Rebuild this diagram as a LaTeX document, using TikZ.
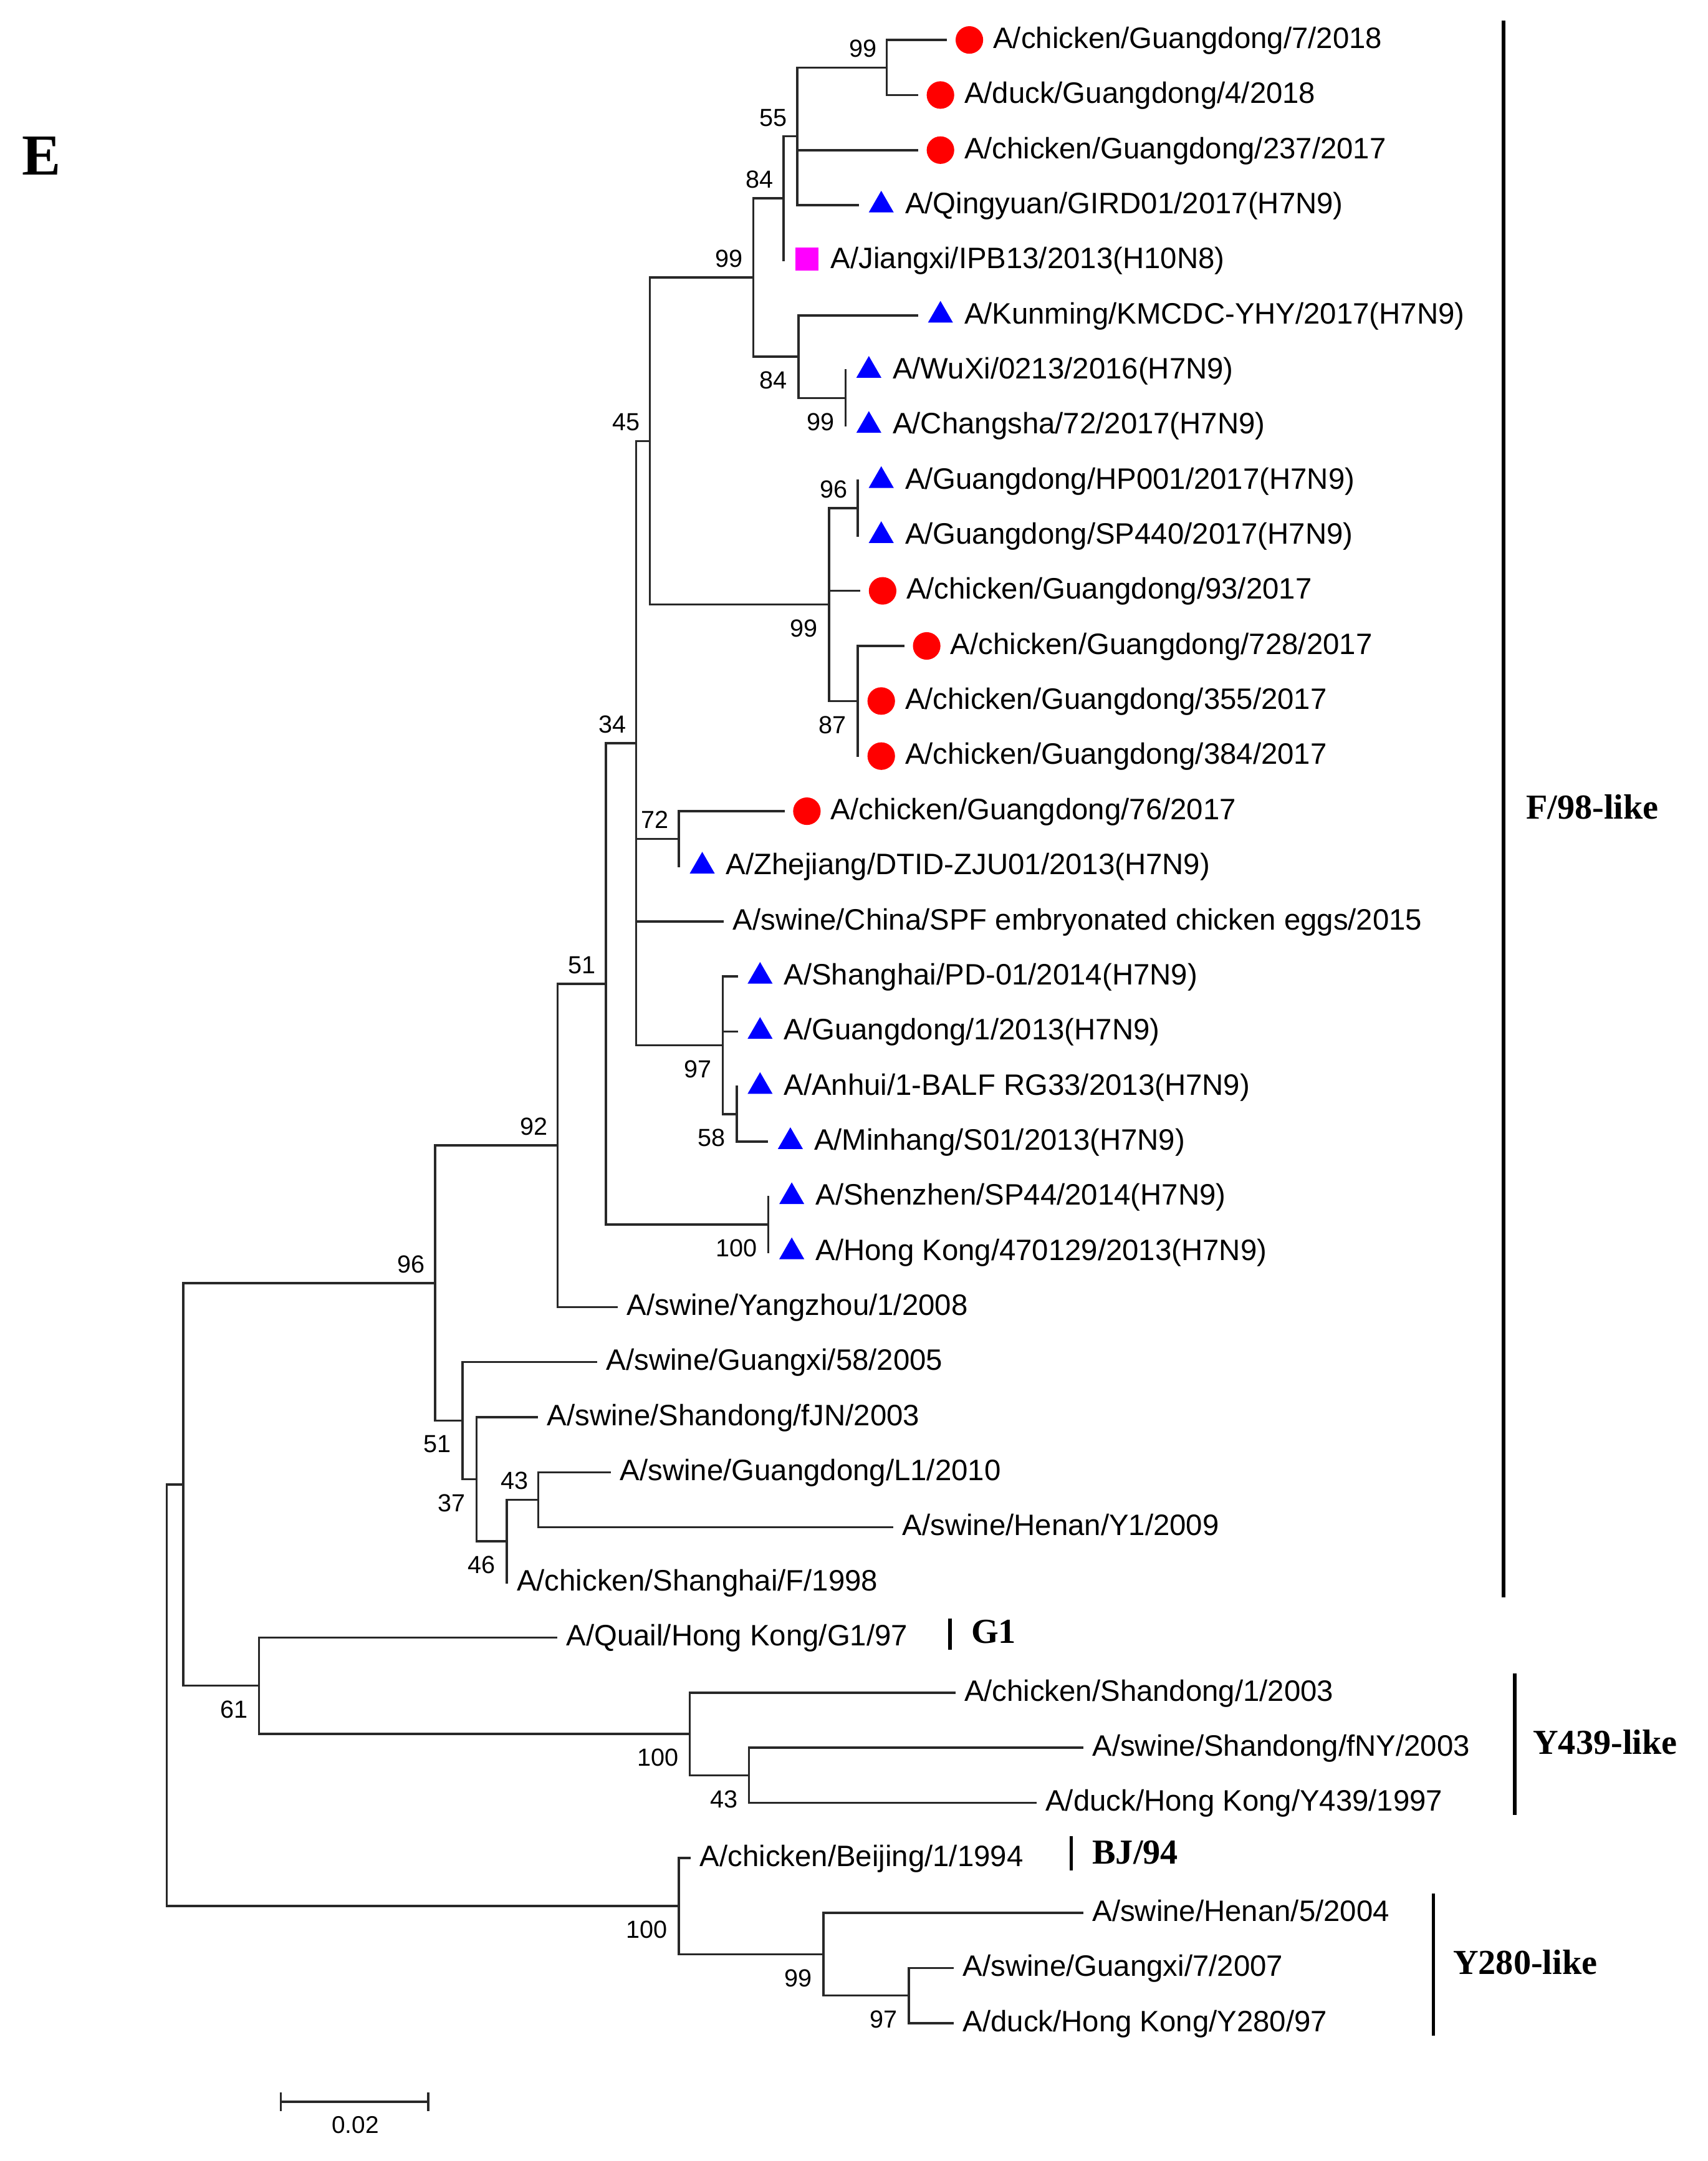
\documentclass[tikz,border=0pt]{standalone}
\usepackage{fontspec}
\setmainfont{Liberation Serif}
\setsansfont{Liberation Sans}
\usepackage{tikz}
\usetikzlibrary{shapes.geometric,calc,positioning}
\definecolor{rojo}{RGB}{255, 0, 0}
\definecolor{azul}{RGB}{0, 0, 255}
\definecolor{fucsia}{RGB}{255, 0, 255}
\definecolor{tinta}{RGB}{40, 40, 40}
\tikzstyle{branch} =[line width=0.9pt, line cap=rect, tinta]
\tikzstyle{cladebar}=[line width=1.5pt, black]
\tikzstyle{redpt}  =[circle, fill=rojo, minimum size=0.4cm,
                     inner sep=0pt, outer sep=0pt]
\tikzstyle{bluept} =[regular polygon, regular polygon sides=3,
                     fill=azul, minimum size=0.42cm, inner sep=0pt]
\tikzstyle{pinkpt} =[rectangle, fill=fucsia, minimum size=0.33cm,
                     inner sep=0pt]
\tikzstyle{taxon}  =[anchor=base west, inner sep=0pt,
                     font=\sffamily\fontsize{12.2}{14}\selectfont]
\tikzstyle{bsup}   =[anchor=south east, inner sep=0pt, xshift=-4pt,
                     yshift=4pt, font=\sffamily\fontsize{10.2}{12}\selectfont]
\tikzstyle{bsdn}   =[anchor=north east, inner sep=0pt, xshift=-4.5pt,
                     yshift=-6pt, font=\sffamily\fontsize{10.2}{12}\selectfont]
\tikzstyle{clade}  =[anchor=west, inner sep=0pt,
                     font=\rmfamily\bfseries\fontsize{14.5}{16}\selectfont]
\begin{document}
\begin{tikzpicture}[x=0.02cm, y=-0.02cm]
    \useasboundingbox (0,0) rectangle (1240,1569.1);

  \begin{scope}[shift={(0,2)}]
    % leaf tips
    \foreach \i/\x in {1/687,2/666,3/666,4/623,5/569,6/666,7/614,8/614,
        9/623,10/623,11/624,12/656,13/623,14/623,15/569,16/493,17/525,
        18/535,19/535,20/535,21/557,22/558,23/558,24/448,25/433,26/390,
        27/443,28/648,29/368,30/404,31/693,32/786,33/752,34/501,35/786,
        36/692,37/692}
        \coordinate (l\i) at (\x,{40*\i-13});

    % inner nodes
    \coordinate (na) at (644,47);     \coordinate (nb) at (579,97);
    \coordinate (nc) at (569,142);    \coordinate (nd) at (614,287);
    \coordinate (ne) at (580,257);    \coordinate (nf) at (547,199.5);
    \coordinate (ng) at (623,367);    \coordinate (nh) at (623,507);
    \coordinate (ni) at (602,437);    \coordinate (nj) at (472,318.3);
    \coordinate (nk) at (493,607);    \coordinate (nl) at (535,807);
    \coordinate (nm) at (525,757);    \coordinate (nn) at (462,537.6);
    \coordinate (no) at (558,887);    \coordinate (np) at (440,712.3);
    \coordinate (nq) at (405,829.7);  \coordinate (nr) at (391,1087);
    \coordinate (ns) at (368,1117);   \coordinate (nt) at (346,1072);
    \coordinate (nu) at (336,1029.5); \coordinate (nv) at (316,929.6);
    \coordinate (nw) at (544,1287);   \coordinate (nx) at (501,1257);
    \coordinate (ny) at (188,1222);   \coordinate (nz) at (133,1075.8);
    \coordinate (naa) at (660,1447);  \coordinate (nbb) at (598,1417);
    \coordinate (ncc) at (493,1382);  \coordinate (root) at (121,1228.9);

    \foreach \p/\c in {na/l1,na/l2,nb/na,nb/l3,nb/l4,nc/nb,nc/l5,nd/l7,
        nd/l8,ne/l6,ne/nd,nf/nc,nf/ne,ng/l9,ng/l10,nh/l12,nh/l13,nh/l14,
        ni/ng,ni/l11,ni/nh,nj/nf,nj/ni,nk/l15,nk/l16,nl/l20,nl/l21,nm/l18,
        nm/l19,nm/nl,nn/nj,nn/nk,nn/l17,nn/nm,no/l22,no/l23,np/nn,np/no,
        nq/np,nq/l24,nr/l27,nr/l28,ns/nr,ns/l29,nt/l26,nt/ns,nu/l25,nu/nt,
        nv/nq,nv/nu,nw/l32,nw/l33,nx/l31,nx/nw,ny/l30,ny/nx,nz/nv,nz/ny,
        naa/l36,naa/l37,nbb/l35,nbb/naa,ncc/l34,ncc/nbb,root/nz,root/ncc}
        \draw [branch] (\p) |- (\c);

    % markers
    \foreach \i in {1,2,3,11,12,13,14,15}
        \node (m\i) [redpt] at ($(l\i)+(17,0)$) {};
    \foreach \i in {4,6,7,8,9,10,16,18,19,20,21,22,23}
        \node (m\i) [bluept] at ($(l\i)+(17,0)$) {};
    \node (m5) [pinkpt] at ($(l5)+(17,-1)$) {};

    % taxa
    \foreach \i/\t in {1/{A/chicken/Guangdong/7/2018},2/{A/duck/Guangdong/4/2018},
        3/{A/chicken/Guangdong/237/2017},4/{A/Qingyuan/GIRD01/2017(H7N9)},
        5/{A/Jiangxi/IPB13/2013(H10N8)},6/{A/Kunming/KMCDC-YHY/2017(H7N9)},
        7/{A/WuXi/0213/2016(H7N9)},8/{A/Changsha/72/2017(H7N9)},
        9/{A/Guangdong/HP001/2017(H7N9)},10/{A/Guangdong/SP440/2017(H7N9)},
        11/{A/chicken/Guangdong/93/2017},12/{A/chicken/Guangdong/728/2017},
        13/{A/chicken/Guangdong/355/2017},14/{A/chicken/Guangdong/384/2017},
        15/{A/chicken/Guangdong/76/2017},16/{A/Zhejiang/DTID-ZJU01/2013(H7N9)},
        18/{A/Shanghai/PD-01/2014(H7N9)},19/{A/Guangdong/1/2013(H7N9)},
        20/{A/Anhui/1-BALF RG33/2013(H7N9)},21/{A/Minhang/S01/2013(H7N9)},
        22/{A/Shenzhen/SP44/2014(H7N9)},23/{A/Hong Kong/470129/2013(H7N9)}}
        \node (t\i) [taxon] at ($(l\i)+(34,6)$) {\t};
    \foreach \i/\t in {17/{A/swine/China/SPF embryonated chicken eggs/2015},
        24/{A/swine/Yangzhou/1/2008},25/{A/swine/Guangxi/58/2005},
        26/{A/swine/Shandong/fJN/2003},27/{A/swine/Guangdong/L1/2010},
        28/{A/swine/Henan/Y1/2009},29/{A/chicken/Shanghai/F/1998},
        30/{A/Quail/Hong Kong/G1/97},31/{A/chicken/Shandong/1/2003},
        32/{A/swine/Shandong/fNY/2003},33/{A/duck/Hong Kong/Y439/1997},
        34/{A/chicken/Beijing/1/1994},35/{A/swine/Henan/5/2004},
        36/{A/swine/Guangxi/7/2007},37/{A/duck/Hong Kong/Y280/97}}
        \node (t\i) [taxon] at ($(l\i)+(7,6)$) {\t};

    % bootstrap values
    \foreach \n/\v in {na/99,nb/55,nc/84,nf/99,nj/45,ng/96,nn/34,nk/72,
        np/51,nq/92,nv/96,nr/43}
        \node (b\n) [bsup] at (\n) {\v};
    \foreach \n/\v in {ne/84,nd/99,ni/99,nh/87,nm/97,nl/58,no/100,nu/51,
        nt/37,ns/46,ny/61,nx/100,nw/43,ncc/100,nbb/99,naa/97}
        \node (b\n) [bsdn] at (\n) {\v};
  \end{scope}

    % clades
    \draw [cladebar] (1092,15) -- (1092,1160);
    \node (f98) [clade] at (1108,586) {F/98-like};
    \draw [cladebar] (690,1175) -- (690,1198);
    \node (g1) [clade] at (705,1185) {G1};
    \draw [cladebar] (1100,1215) -- (1100,1318);
    \node (y439) [clade] at (1113,1265) {Y439-like};
    \draw [cladebar] (778,1333) -- (778,1358);
    \node (bj94) [clade] at (793,1345) {BJ/94};
    \draw [cladebar] (1041,1375) -- (1041,1478);
    \node (y280) [clade] at (1055,1425) {Y280-like};

    % scale bar
    \coordinate (sb1) at (204,1526);
    \coordinate (sb2) at (311,1526);
    \draw [branch] (sb1) -- (sb2);
    \draw [branch] ($(sb1)+(0,-6)$) -- ($(sb1)+(0,6)$);
    \draw [branch] ($(sb2)+(0,-6)$) -- ($(sb2)+(0,6)$);
    \node (sbl) [font=\sffamily\fontsize{10}{12}\selectfont] at (258,1543) {0.02};

    \node (panel) [font=\rmfamily\bfseries\fontsize{24}{28}\selectfont] at (30,113) {E};
\end{tikzpicture}
\end{document}
